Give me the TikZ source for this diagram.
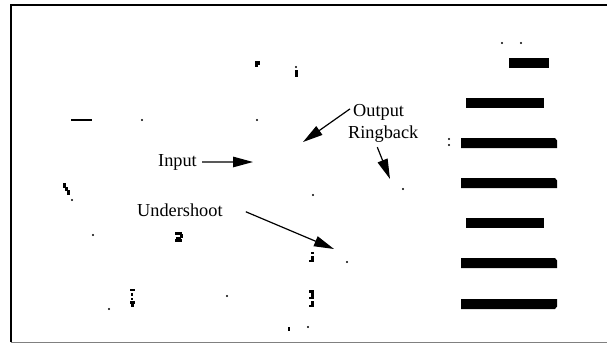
\documentclass[tikz,border=0pt]{standalone}
\usepackage{fontspec}
\setmainfont{Liberation Serif}
\usetikzlibrary{arrows.meta}
\tikzset{
  lbl/.style={inner sep=0pt, anchor=base west, font=\fontsize{18.3}{22}\selectfont},
  arr/.style={line width=1.2pt, -{Triangle[length=20pt,width=10.5pt]}},
  pix/.style={fill=black},
}
\begin{document}
\begin{tikzpicture}[x=1pt,y=-1pt]
\useasboundingbox (0,0) rectangle (607,343);
% frame
\draw[line width=2.2pt] (11,342) -- (11,5) -- (607,5);
\draw[gray, line width=1pt] (11,342) -- (607,342);
% labels
\node[lbl] (output) at (353,116) {Output};
\node[lbl] (ringback) at (348,138) {Ringback};
\node[lbl] (input) at (158,166) {Input};
\node[lbl] (undershoot) at (137,216) {Undershoot};
% arrow targets
\coordinate (outtip) at (303,142);
\coordinate (ringtip) at (390,179);
\coordinate (intip) at (253,162);
\coordinate (undertip) at (334,249);
\draw[arr] ([xshift=-3pt,yshift=3pt]output.west) -- (outtip);
\draw[arr] ([xshift=-6pt,yshift=-5pt]ringback.south) -- (ringtip);
\draw[arr] ([xshift=5pt]input.east) -- (intip);
\draw[arr] ([xshift=23pt,yshift=-2pt]undershoot.east) -- (undertip);
% bars
\fill (509,58) rectangle (549,68);
\fill (466,98) rectangle (544,108);
\fill (461,138) -- (555,138) -- (557,140.5) -- (557,148) -- (461,148) -- cycle;
\fill (461,178) -- (555,178) -- (557,180.5) -- (557,188) -- (461,188) -- cycle;
\fill (466,218) rectangle (544,228);
\fill (461,258) -- (555,258) -- (557,260.5) -- (557,268) -- (461,268) -- cycle;
\fill (461,299) -- (557,299) -- (557,306.5) -- (555,309) -- (461,309) -- cycle;
% scattered specks
\foreach \x/\y in {502/43, 521/43, 449/139, 449/145, 142/120, 257/120, 72/200,
  313/195, 93/235, 347/262, 403/189, 109/309, 227/296, 308/327, 296/67}
  \fill[pix] (\x,\y) circle (1.2);
\draw[line width=1.8pt] (71,120) -- (92,120);
\fill[pix] (255,61) rectangle (259.5,64.5);
\fill[pix] (255,64) rectangle (257.5,66.5);
\fill[pix] (295,70) rectangle (297.5,76.5);
\fill[pix] (63,183) rectangle (65.5,188);
\fill[pix] (64.5,187) rectangle (68,191);
\fill[pix] (67,190) rectangle (69.5,195);
\fill[pix] (175,232) rectangle (182,234.5);
\fill[pix] (180,234) rectangle (182.5,238);
\fill[pix] (176,237) rectangle (181,239.5);
\fill[pix] (175,239) rectangle (182,242);
\fill[pix] (311,251.5) rectangle (313.5,254);
\fill[pix] (311,256) rectangle (313.5,262);
\fill[pix] (308.5,259.5) rectangle (313.5,262);
\fill[pix] (130,288.5) rectangle (135,291);
\fill[pix] (130.5,293) rectangle (133,295.5);
\fill[pix] (130.5,297.5) rectangle (133,300);
\fill[pix] (130,301) rectangle (135,303.5);
\fill[pix] (131,304) rectangle (134,307);
\fill[pix] (309,290) rectangle (313.5,292.5);
\fill[pix] (311,292) rectangle (313.5,297.5);
\fill[pix] (309,296.5) rectangle (313.5,299);
\fill[pix] (311,300.5) rectangle (313.5,305.5);
\fill[pix] (308.5,304.5) rectangle (313.5,307);
\fill[pix] (287.5,326.5) rectangle (289.5,331);
\end{tikzpicture}
\end{document}
